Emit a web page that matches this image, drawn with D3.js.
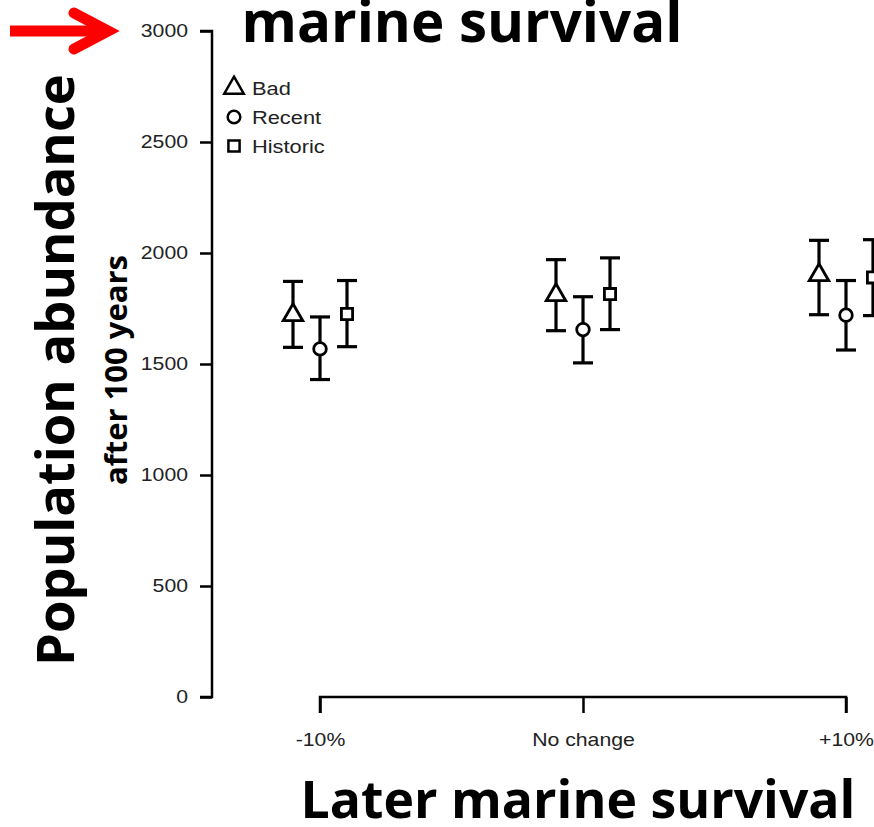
<!DOCTYPE html>
<html>
<head>
<meta charset="utf-8">
<script src="https://cdn.jsdelivr.net/npm/d3@7"></script>
<style>
  body { margin: 0; background: #fff; }
  svg { display: block; }
</style>
</head>
<body>
<div id="chart"></div>
<script>
const WIDTH = 874
const HEIGHT = 827

const categories = ["-10%", "No change", "+10%"]
const seriesNames = ["Bad", "Recent", "Historic"]
const seriesShapes = ["triangle", "circle", "square"]

// mean, lower, upper per category
const badMean = [1725, 1815, 1905]
const badLow = [1575, 1650, 1722]
const badHigh = [1872, 1970, 2057]

const recentMean = [1568, 1655, 1720]
const recentLow = [1430, 1505, 1563]
const recentHigh = [1712, 1803, 1876]

const historicMean = [1725, 1815, 1890]
const historicLow = [1578, 1655, 1718]
const historicHigh = [1876, 1978, 2060]

const yTicks = [0, 500, 1000, 1500, 2000, 2500, 3000]

const MARGIN = { TOP: 31, LEFT: 212, BOTTOM: 131 }
const STRETCH = 1.18   // the original's small labels are wider than plain Arial

const svg = d3.select("#chart")
    .append("svg")
    .attr("width", WIDTH)
    .attr("height", HEIGHT)

const y = d3.scaleLinear()
    .domain([0, 3000])
    .range([HEIGHT - MARGIN.BOTTOM + 1, MARGIN.TOP])

const x = d3.scalePoint()
    .domain(categories)
    .range([320, 846])

const offset = d3.scalePoint()
    .domain(seriesNames)
    .range([-27, 27])

// y axis
const yAxis = svg.append("g")
    .attr("transform", `translate(${MARGIN.LEFT},0)`)
    .call(d3.axisLeft(y).tickValues(yTicks).tickSize(12).tickPadding(12).tickFormat(d3.format("d")))
yAxis.select(".domain").attr("stroke-width", 2.5).attr("d", `M-12,${y(3000)}H0V${y(0)}H-12`)
yAxis.selectAll(".tick line").attr("stroke-width", 2.5)
yAxis.selectAll(".tick text")
    .attr("font-family", "Liberation Sans, Arial, sans-serif")
    .attr("font-size", 18)
    .attr("fill", "#222")
    .attr("x", -24 / STRETCH)
    .attr("transform", `scale(${STRETCH},1)`)

// x axis
const xAxis = svg.append("g")
    .attr("transform", `translate(0,${y(0)})`)
    .call(d3.axisBottom(x).tickSize(16).tickPadding(20))
xAxis.select(".domain").attr("stroke-width", 2.5)
    .attr("d", `M${x(categories[0])},16V0H${x(categories[2])}V16`)
xAxis.selectAll(".tick line").attr("stroke-width", 2.5)
xAxis.selectAll(".tick text")
    .attr("font-family", "Liberation Sans, Arial, sans-serif")
    .attr("font-size", 18)
    .attr("fill", "#222")
    .attr("transform", `scale(${STRETCH},1)`)

// data points
const series = [
    { name: "Bad", shape: "triangle", mean: badMean, low: badLow, high: badHigh },
    { name: "Recent", shape: "circle", mean: recentMean, low: recentLow, high: recentHigh },
    { name: "Historic", shape: "square", mean: historicMean, low: historicLow, high: historicHigh }
]

const points = []
series.forEach(s => {
    categories.forEach((c, i) => {
        points.push({ series: s.name, shape: s.shape, cat: c, mean: s.mean[i], low: s.low[i], high: s.high[i] })
    })
})

const symbolFor = shape => {
    if (shape === "triangle") return d3.symbol().type(d3.symbolTriangle).size(165)()
    if (shape === "circle") return d3.symbol().type(d3.symbolCircle).size(125)()
    return d3.symbol().type(d3.symbolSquare).size(125)()
}

const CAP = 10
const pts = svg.append("g")
    .attr("stroke", "#000")
    .attr("stroke-width", 3.2)
    .selectAll("g")
    .data(points)
    .join("g")
    .attr("transform", d => `translate(${x(d.cat) + offset(d.series)},0)`)

pts.append("line")
    .attr("y1", d => y(d.high)).attr("y2", d => y(d.low))
pts.append("line")
    .attr("x1", -CAP).attr("x2", CAP)
    .attr("y1", d => y(d.high)).attr("y2", d => y(d.high))
pts.append("line")
    .attr("x1", -CAP).attr("x2", CAP)
    .attr("y1", d => y(d.low)).attr("y2", d => y(d.low))
pts.append("path")
    .attr("d", d => symbolFor(d.shape))
    .attr("transform", d => `translate(0,${y(d.mean) + (d.shape === "triangle" ? 1 : 0)})`)
    .attr("fill", "#fff")
    .attr("stroke-width", 2.8)

// legend
const legend = svg.append("g")
    .selectAll("g")
    .data(seriesNames)
    .join("g")
    .attr("transform", (d, i) => `translate(234,${88 + i * 29})`)
legend.append("path")
    .attr("d", (d, i) => symbolFor(seriesShapes[i]))
    .attr("fill", "#fff")
    .attr("stroke", "#000")
    .attr("stroke-width", 2.5)
legend.append("text")
    .attr("x", 18 / STRETCH)
    .attr("dy", "0.36em")
    .attr("transform", `scale(${STRETCH},1)`)
    .attr("font-family", "Liberation Sans, Arial, sans-serif")
    .attr("font-size", 18.5)
    .attr("fill", "#222")
    .text(d => d)

// titles
const fitText = (sel, width) => {
    const w = sel.node().getComputedTextLength()
    const fs = +sel.attr("font-size")
    sel.attr("font-size", fs * width / w)
}

svg.append("text")
    .attr("x", 462).attr("y", 42)
    .attr("text-anchor", "middle")
    .attr("font-family", "Open Sans, sans-serif")
    .attr("font-weight", "bold")
    .attr("font-size", 48)
    .text("marine survival")
    .call(fitText, 441)

svg.append("text")
    .attr("x", 578).attr("y", 818)
    .attr("text-anchor", "middle")
    .attr("font-family", "Open Sans, sans-serif")
    .attr("font-weight", "bold")
    .attr("font-size", 46)
    .text("Later marine survival")
    .call(fitText, 555)

svg.append("text")
    .attr("transform", "translate(74,370) rotate(-90)")
    .attr("text-anchor", "middle")
    .attr("font-family", "Open Sans, sans-serif")
    .attr("font-weight", "bold")
    .attr("font-size", 46)
    .text("Population abundance")
    .call(fitText, 592)

svg.append("text")
    .attr("transform", "translate(127,370) rotate(-90)")
    .attr("text-anchor", "middle")
    .attr("font-family", "Open Sans, sans-serif")
    .attr("font-weight", "bold")
    .attr("font-size", 24)
    .text("after 100 years")
    .call(fitText, 230)

// red arrow
svg.append("line")
    .attr("x1", 10).attr("x2", 104)
    .attr("y1", 31).attr("y2", 31)
    .attr("stroke", "#f00")
    .attr("stroke-width", 11)
svg.append("path")
    .attr("d", "M74,13 L108,31 L74,49")
    .attr("fill", "none")
    .attr("stroke", "#f00")
    .attr("stroke-width", 11)
    .attr("stroke-linecap", "round")
    .attr("stroke-linejoin", "miter")
</script>
</body>
</html>
